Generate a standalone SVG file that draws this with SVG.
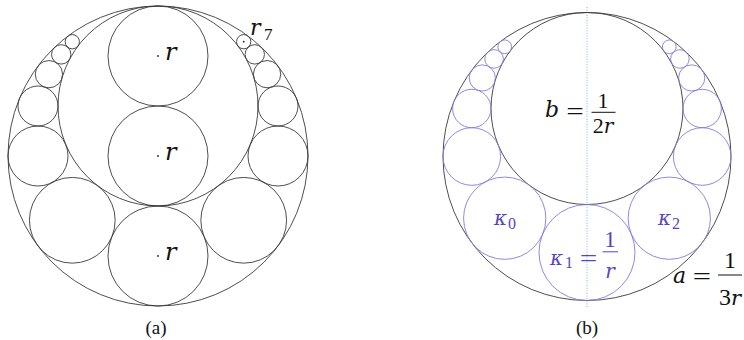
<svg xmlns="http://www.w3.org/2000/svg" width="744" height="340" viewBox="0 0 744 340">
<style>
.k{fill:none;stroke:#3a3a3a;stroke-width:0.9}
.p{fill:none;stroke:#8a78d8;stroke-width:0.9}
text{fill:#111;font-family:"Liberation Serif","Times New Roman",serif}
text.i,tspan.i{font-family:"DejaVu Serif",serif;font-style:italic}
text.pt{fill:#5a44c0}
.d{fill:#222}
</style>
<rect width="744" height="340" fill="#fff"/>
<g id="panel-a">
<g id="a-outer"><circle class="k" cx="158" cy="156" r="150"/></g>
<g id="a-inner"><circle class="k" cx="158" cy="106" r="100"/></g>
<g id="a-r1"><circle class="k" cx="158" cy="56" r="50"/><circle class="d" cx="158" cy="56" r="0.9"/><text class="i" x="165" y="60" font-size="24">r</text></g>
<g id="a-r2"><circle class="k" cx="158" cy="156" r="50"/><circle class="d" cx="158" cy="156" r="0.9"/><text class="i" x="165" y="160" font-size="24">r</text></g>
<g id="a-r3"><circle class="k" cx="158" cy="256" r="50"/><circle class="d" cx="158" cy="256" r="0.9"/><text class="i" x="165" y="260" font-size="24">r</text></g>
<g id="a-chain">
<circle class="k" cx="72.29" cy="220.29" r="42.86"/><circle class="k" cx="243.71" cy="220.29" r="42.86"/>
<circle class="k" cx="38" cy="156" r="30"/><circle class="k" cx="278" cy="156" r="30"/>
<circle class="k" cx="38" cy="106" r="20"/><circle class="k" cx="278" cy="106" r="20"/>
<circle class="k" cx="48.91" cy="74.18" r="13.64"/><circle class="k" cx="267.09" cy="74.18" r="13.64"/>
<circle class="k" cx="61.23" cy="54.39" r="9.68"/><circle class="k" cx="254.77" cy="54.39" r="9.68"/>
<circle class="k" cx="72.29" cy="41.71" r="7.14"/><circle class="k" cx="243.71" cy="41.71" r="7.14"/>
<circle class="d" cx="243.71" cy="41.71" r="0.9"/>
<text class="i" x="250" y="35" font-size="22">r</text><text x="264" y="40" font-size="17">7</text>
</g>
<text x="156" y="334" font-size="19" text-anchor="middle">(a)</text>
</g>
<g id="panel-b">
<g id="connectors"><line x1="587" y1="7" x2="587" y2="307" stroke="#6fa8d8" stroke-width="0.9" stroke-dasharray="1 1.6"/></g>
<g id="b-outer"><circle class="k" cx="587" cy="156.5" r="144"/></g>
<g id="b-inner"><circle class="k" cx="587" cy="108.5" r="96"/>
<text class="i" x="545" y="116.5" font-size="22">b</text>
<text x="575" y="119" font-size="23" text-anchor="middle" transform="translate(575 0) scale(1.35 1) translate(-575 0)">=</text>
<text x="603" y="108" font-size="22" text-anchor="middle">1</text>
<line x1="591.5" y1="112.3" x2="615.5" y2="112.3" stroke="#111" stroke-width="1"/>
<text x="603" y="133" font-size="22" text-anchor="middle">2<tspan class="i" font-size="20">r</tspan></text>
</g>
<g id="b-k1"><circle class="p" cx="587" cy="252.5" r="48"/>
<text class="i pt" x="550" y="265" font-size="20">κ</text><text class="pt" x="565" y="268" font-size="16">1</text>
<text class="pt" x="588.5" y="266" font-size="23" text-anchor="middle" transform="translate(588.5 0) scale(1.35 1) translate(-588.5 0)">=</text>
<text class="pt" x="610" y="246.5" font-size="23" text-anchor="middle">1</text>
<line x1="602.5" y1="251.8" x2="618" y2="251.8" stroke="#5a44c0" stroke-width="1"/>
<text class="i pt" x="610" y="278" font-size="20" text-anchor="middle">r</text>
</g>
<g id="b-k0"><circle class="p" cx="504.71" cy="218.21" r="41.14"/>
<text class="i pt" x="494" y="225" font-size="20">κ</text><text class="pt" x="508" y="229" font-size="16">0</text></g>
<g id="b-k2"><circle class="p" cx="669.29" cy="218.21" r="41.14"/>
<text class="i pt" x="658" y="225" font-size="20">κ</text><text class="pt" x="672" y="229" font-size="16">2</text></g>
<g id="b-chain">
<circle class="p" cx="471.8" cy="156.5" r="28.8"/><circle class="p" cx="702.2" cy="156.5" r="28.8"/>
<circle class="p" cx="471.8" cy="108.5" r="19.2"/><circle class="p" cx="702.2" cy="108.5" r="19.2"/>
<circle class="p" cx="482.27" cy="77.95" r="13.09"/><circle class="p" cx="691.73" cy="77.95" r="13.09"/>
<circle class="p" cx="494.1" cy="58.95" r="9.29"/><circle class="p" cx="679.9" cy="58.95" r="9.29"/>
<circle class="p" cx="504.71" cy="46.79" r="6.86"/><circle class="p" cx="669.29" cy="46.79" r="6.86"/>
</g>
<g id="b-a-label">
<text class="i" x="673" y="283" font-size="22">a</text>
<text x="702" y="284" font-size="24" text-anchor="middle" transform="translate(702 0) scale(1.35 1) translate(-702 0)">=</text>
<text x="730" y="268" font-size="24" text-anchor="middle">1</text>
<line x1="718" y1="275" x2="742" y2="275" stroke="#111" stroke-width="1"/>
<text x="730" y="305" font-size="24" text-anchor="middle">3<tspan class="i" font-size="21">r</tspan></text>
</g>
<text x="587" y="334" font-size="19" text-anchor="middle">(b)</text>
</g>
</svg>
